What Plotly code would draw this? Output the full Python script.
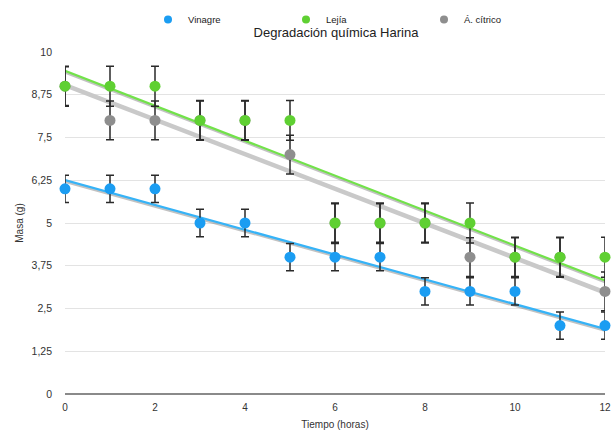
import numpy as np
import plotly.graph_objects as go

tiempo = [0, 1, 2, 3, 4, 5, 6, 7, 8, 9, 10, 11, 12]
vinagre = [6, 6, 6, 5, 5, 4, 4, 4, 3, 3, 3, 2, 2]
lejia = [9, 9, 9, 8, 8, 8, 5, 5, 5, 5, 4, 4, 4]
citrico = [9, 8, 8, 8, 8, 7, 5, 5, 5, 4, 4, 4, 3]

y_ticks = [0, 1.25, 2.5, 3.75, 5, 6.25, 7.5, 8.75, 10]
y_ticktext = ["0", "1,25", "2,5", "3,75", "5", "6,25", "7,5", "8,75", "10"]
x_ticks = [0, 2, 4, 6, 8, 10, 12]

series = [
    ("Á. cítrico", citrico, "#8e8e8e", "#c9c9c9", 4.5),
    ("Vinagre", vinagre, "#1b9df2", "#36b3f7", 2.2),
    ("Lejía", lejia, "#5fd032", "#72e24a", 2.2),
]
legend_order = ["Vinagre", "Lejía", "Á. cítrico"]
colors = {s[0]: s[2] for s in series}

W, H = 611, 430

x = np.array(tiempo, dtype=float)
fig = go.Figure()

# trend lines (linear regression) with subtle shadow
for name, vals, col, tcol, tw in series:
    y = np.array(vals, dtype=float)
    m, b = np.polyfit(x, y, 1)
    xl = np.array([x.min(), x.max()])
    if tw < 3:
        fig.add_trace(go.Scatter(x=xl, y=m * xl + b - 0.045, mode="lines",
                                 line=dict(color="rgba(120,120,120,0.45)", width=2.5),
                                 showlegend=False, hoverinfo="skip", cliponaxis=False))
    fig.add_trace(go.Scatter(x=xl, y=m * xl + b, mode="lines",
                             line=dict(color=tcol, width=tw),
                             showlegend=False, hoverinfo="skip", cliponaxis=False))

# points with standard-error bars
for name, vals, col, tcol, tw in series:
    y = np.array(vals, dtype=float)
    se = y.std(ddof=1) / np.sqrt(len(y))
    fig.add_trace(go.Scatter(
        x=tiempo, y=vals, mode="markers", name=name, showlegend=False,
        marker=dict(color=col, size=11), cliponaxis=False,
        error_y=dict(type="constant", value=se, color="#2a2a2a", thickness=1.5, width=4),
    ))

# legend entries
for i, name in enumerate(legend_order):
    fig.add_trace(go.Scatter(x=[None], y=[None], mode="markers", name=name,
                             marker=dict(color=colors[name], size=8),
                             legendrank=i + 1))

fig.update_layout(
    width=W, height=H,
    margin=dict(l=65, r=6, t=52, b=36, autoexpand=False),
    paper_bgcolor="white", plot_bgcolor="white",
    font=dict(family="Liberation Sans, Arial, sans-serif", size=10, color="#333333"),
    title=dict(text="Degradación química Harina", x=336 / W, xanchor="center",
               y=1 - 32 / H, yanchor="middle", yref="container",
               font=dict(size=13, color="#222222")),
    legend=dict(orientation="h", x=148 / W, xanchor="left", xref="container",
                y=1 - 19.5 / H, yanchor="middle", yref="container",
                entrywidth=93, font=dict(size=9.5, color="#222222"),
                itemwidth=30),
    showlegend=True,
)

fig.update_xaxes(range=[0, 12], tickvals=x_ticks,
                 showgrid=False, zeroline=False, ticklabeloverflow="allow",
                 showline=False, ticks="", automargin=False, ticklabelstandoff=6,
                 tickfont=dict(size=10, color="#333333"),
                 title=dict(text="Tiempo (horas)", font=dict(size=10, color="#333333"), standoff=8))
fig.update_yaxes(range=[0, 10], tickvals=y_ticks, ticktext=y_ticktext,
                 showgrid=True, gridcolor="#e3e3e3", gridwidth=1,
                 zeroline=True, zerolinecolor="#8a8a8a", zerolinewidth=2,
                 showline=False, ticks="", automargin=False, ticklabelstandoff=12,
                 tickfont=dict(size=10.5, color="#333333"),
                 title=dict(text="Masa (g)", font=dict(size=10, color="#333333"), standoff=6))

fig.write_html("out.html", config={"displayModeBar": False},
               post_script="document.body.style.margin='0';document.body.style.overflow='hidden';")
